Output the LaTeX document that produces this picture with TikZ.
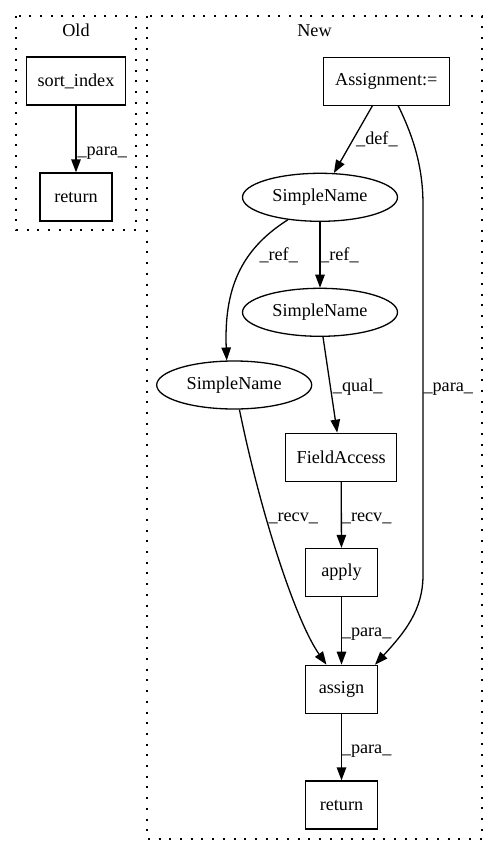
\documentclass[tikz,border=0pt]{standalone}
\usepackage{fontspec}
\setmainfont{Liberation Serif}
\usetikzlibrary{arrows.meta,shapes.geometric}
\begin{document}
\begin{tikzpicture}[x=1pt,y=-1pt,
  every node/.style={font=\fontsize{18.2}{20}\selectfont, inner sep=0pt},
  box/.style={draw, line width=1.3pt, rectangle, minimum height=48pt},
  oval/.style={draw, line width=1.3pt, ellipse, minimum width=155pt, minimum height=48pt},
  edge/.style={draw, line width=1.3pt, -{Triangle[length=13pt,width=9.5pt]}},
  lbl/.style={anchor=base west},
  cluster/.style={draw, line width=1.3pt, dash pattern=on 2pt off 8.7pt}]
\useasboundingbox (0,0) rectangle (499,856);
% clusters
\draw[cluster] (16,16) rectangle (136,230);
\draw[cluster] (147,16) rectangle (482,839);
\node (oldlab) at (76,30.5) {Old};
\node (newlab) at (314.5,30.5) {New};
% nodes
\node[box, minimum width=99pt] (sortidx) at (76,81) {sort\_index};
\node[box, minimum width=72pt] (oldret) at (76,197) {return};
\node[box, minimum width=126pt] (asg) at (386.3,81.3) {Assignment:=};
\node[oval] (sn1) at (320,197.3) {SimpleName};
\node[oval] (sn2) at (320,312.3) {SimpleName};
\node[oval] (sn3) at (234.2,385) {SimpleName};
\node[box, minimum width=111pt] (fa) at (341.2,457.3) {FieldAccess};
\node[box, minimum width=72pt] (apply) at (341.5,572.5) {apply};
\node[box, minimum width=72pt] (assign) at (341.5,689.3) {assign};
\node[box, minimum width=72pt] (ret) at (341.5,805) {return};
% edges
\draw[edge] (sortidx) -- (oldret);
\draw[edge] ([xshift=-14pt]asg.south) -- (sn1);
\draw[edge] (sn1) -- (sn2);
\draw[edge] (sn1.215) .. controls (240,250) and (224,290) .. (sn3.107);
\draw[edge] ([xshift=3pt]sn2.south) -- ([xshift=-4pt]fa.north);
\draw[edge] (fa) -- (apply);
\draw[edge] (sn3.282) .. controls (262,520) and (297,623) .. ([xshift=-15pt]assign.north);
\draw[edge] (apply) -- (assign);
\draw[edge] ([xshift=12pt]asg.south) .. controls (415,140) and (423,170) .. (423,205) -- (423,575) .. controls (423,610) and (405,632) .. ([xshift=33.5pt]assign.north);
\draw[edge] (assign) -- (ret);
% labels
\node[lbl] (lpara0) at (77.3,155) {\_para\_};
\node[lbl] (ldef) at (356,144.3) {\_def\_};
\node[lbl] (lref1) at (259.3,260.7) {\_ref\_};
\node[lbl] (lref2) at (320,260.7) {\_ref\_};
\node[lbl] (lqual) at (332.7,391) {\_qual\_};
\node[lbl] (lpara1) at (423.3,391) {\_para\_};
\node[lbl] (lrecv1) at (268.3,521.7) {\_recv\_};
\node[lbl] (lrecv2) at (341.7,521.7) {\_recv\_};
\node[lbl] (lpara2) at (341.7,636.7) {\_para\_};
\node[lbl] (lpara3) at (341.7,753.3) {\_para\_};
\end{tikzpicture}
\end{document}
